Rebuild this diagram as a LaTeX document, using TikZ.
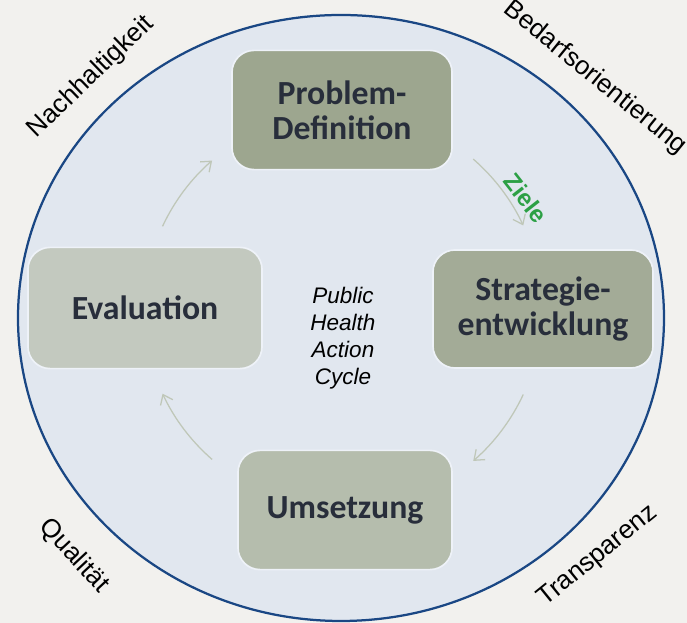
\documentclass[tikz,border=0pt]{standalone}
\usepackage{fontspec}
\setmainfont{Liberation Sans}
\newfontfamily\boxfont{Carlito}
\usetikzlibrary{positioning,arrows.meta,calc}
\definecolor{pagebg}{HTML}{F2F1EE}
\definecolor{discfill}{HTML}{E1E7EF}
\definecolor{discrim}{HTML}{1A4784}
\definecolor{boxrim}{HTML}{EEF2F8}
\definecolor{boxtext}{HTML}{282E3B}
\definecolor{stepone}{HTML}{9DA68F}
\definecolor{steptwo}{HTML}{A3AB97}
\definecolor{stepthree}{HTML}{B5BDAD}
\definecolor{stepfour}{HTML}{C3C9BF}
\definecolor{arrowgray}{HTML}{BFC7B8}
\definecolor{goalgreen}{HTML}{2CA045}
\tikzset{
  phasebox/.style={draw=boxrim, line width=1.2pt, rounded corners=0.55cm, minimum width=5.5cm, minimum height=2.98cm, align=center, text=boxtext, font=\boxfont\bfseries\fontsize{24}{25}\selectfont},
  cyclearrow/.style={-{Straight Barb[length=2.2mm, width=3.4mm]}, line width=0.9pt, draw=arrowgray},
  valuelabel/.style={font=\fontsize{18.5}{20}\selectfont, text=black},
  goallabel/.style={font=\bfseries\fontsize{17}{19}\selectfont, text=goalgreen},
  cyclelabel/.style={font=\itshape\fontsize{16}{19.2}\selectfont, align=center, text=black}
}
\begin{document}
\begin{tikzpicture}[x=0.025cm, y=0.025cm]
  \fill[pagebg] (0,0) rectangle (687,623);
  \useasboundingbox (0,0) rectangle (687,623);
  \clip (0,0) rectangle (687,623);
  \filldraw[fill=discfill, draw=discrim, line width=1.6pt] (341,305) ellipse [x radius=323, y radius=303];

  % the four phases
  \node[phasebox, fill=stepone] (prob) at (342,513) {Problem-\\Definition};
  \node[phasebox, fill=steptwo, minimum height=2.95cm] (strat) at (543,314) {Strategie-\\entwicklung};
  \node[phasebox, fill=stepthree, minimum width=5.35cm] (umset) at (345,113) {Umsetzung};
  \node[phasebox, fill=stepfour, minimum width=5.85cm, minimum height=3.03cm] (eval) at (145,315) {Evaluation};

  \coordinate (hub) at (342,313);
  \node[cyclelabel] (pha) at (343,285) {Public\\Health\\Action\\Cycle};

  % arrows around the hub
  \coordinate (a1) at ($(hub)+(49:200)$);
  \coordinate (a2) at ($(hub)+(-25:200)$);
  \coordinate (a3) at ($(hub)+(-131:198)$);
  \coordinate (a4) at ($(hub)+(155:198)$);
  \draw[cyclearrow] (a1) arc[start angle=49, end angle=25, radius=200];
  \draw[cyclearrow] (a2) arc[start angle=-25, end angle=-49, radius=200];
  \draw[cyclearrow] (a3) arc[start angle=-131, end angle=-155, radius=198];
  \draw[cyclearrow] (a4) arc[start angle=155, end angle=131, radius=198];
  \node[goallabel, rotate=-52] (ziele) at (526,425) {Ziele};

  % values round the disc
  \node[valuelabel, rotate=44] (nach) at (91,546) {Nachhaltigkeit};
  \node[valuelabel, rotate=-39] (bedarf) at (595,545) {Bedarfsorientierung};
  \node[valuelabel, rotate=-47] (qual) at (74,67) {Qualität};
  \node[valuelabel, rotate=39] (transp) at (598,67) {Transparenz};
\end{tikzpicture}
\end{document}
